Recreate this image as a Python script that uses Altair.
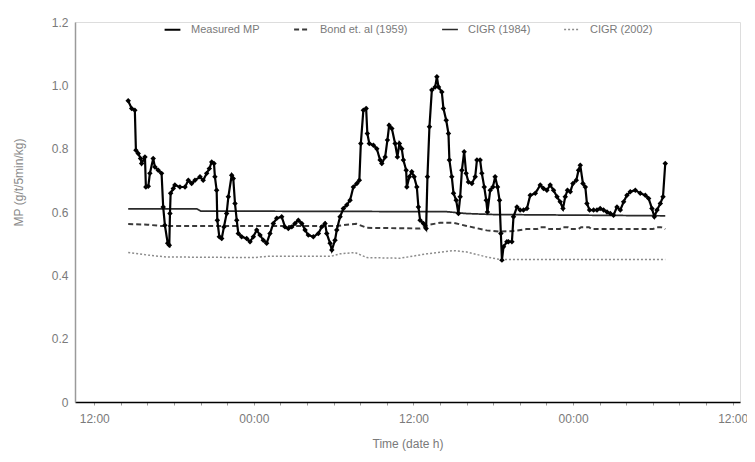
import altair as alt
import pandas as pd

# hours after 12:00 of the first day
measured_h = [2.55, 2.81, 3.05, 3.13, 3.30, 3.48, 3.56, 3.81, 3.88, 4.06, 4.18, 4.43, 4.56, 4.81, 5.06,
              5.18, 5.31, 5.52, 5.64, 5.69, 5.74, 5.94, 6.06, 6.44, 6.82, 7.07, 7.32, 7.57, 7.95, 8.19,
              8.45, 8.65, 8.83, 9.00, 9.07, 9.20, 9.25, 9.40, 9.58, 9.75, 9.95, 10.08, 10.33, 10.45,
              10.58, 10.71, 10.83, 11.08, 11.46, 11.71, 11.96, 12.21, 12.46, 12.71, 12.96, 13.21, 13.46,
              13.72, 14.09, 14.34, 14.59, 14.85, 15.09, 15.34, 15.60, 15.85, 16.09, 16.47, 16.85, 17.10,
              17.35, 17.48, 17.73, 17.86, 18.10, 18.23, 18.48, 18.73, 18.98, 19.23, 19.48, 19.74, 19.93,
              20.04, 20.23, 20.44, 20.53, 20.68, 20.99, 21.24, 21.49, 21.62, 21.87, 22.04, 22.17, 22.37,
              22.62, 22.79, 22.94, 23.12, 23.24, 23.45, 23.50, 23.69, 23.87, 24.05, 24.25, 24.37, 24.50,
              24.75, 24.95, 25.05, 25.20, 25.38, 25.63, 25.76, 25.88, 26.13, 26.25, 26.46, 26.63, 26.70,
              26.88, 27.01, 27.21, 27.38, 27.51, 27.64, 27.81, 27.96, 28.13, 28.39, 28.64, 28.77, 29.01,
              29.14, 29.32, 29.47, 29.56, 29.77, 29.97, 30.14, 30.32, 30.47, 30.57, 30.65, 30.77, 31.02,
              31.14, 31.40, 31.52, 31.78, 32.02, 32.27, 32.53, 32.78, 33.16, 33.53, 33.78, 34.03, 34.28,
              34.53, 34.79, 35.03, 35.24, 35.41, 35.58, 35.79, 35.99, 36.24, 36.41, 36.54, 36.74, 36.92,
              37.04, 37.24, 37.54, 37.80, 38.04, 38.29, 38.55, 38.80, 39.04, 39.30, 39.55, 39.80, 40.05,
              40.30, 40.68, 41.05, 41.43, 41.68, 41.93, 42.11, 42.31, 42.56, 42.76, 42.93]
measured_mp = [0.951, 0.927, 0.921, 0.795, 0.785, 0.769, 0.753, 0.774, 0.679, 0.681, 0.722, 0.769, 0.742,
               0.732, 0.722, 0.616, 0.558, 0.501, 0.495, 0.595, 0.659, 0.674, 0.685, 0.679, 0.679, 0.700,
               0.690, 0.700, 0.711, 0.700, 0.722, 0.737, 0.758, 0.753, 0.711, 0.669, 0.574, 0.522, 0.516,
               0.553, 0.595, 0.648, 0.716, 0.706, 0.627, 0.574, 0.532, 0.522, 0.516, 0.506, 0.522, 0.543,
               0.527, 0.511, 0.501, 0.532, 0.564, 0.580, 0.585, 0.553, 0.548, 0.553, 0.564, 0.574, 0.564,
               0.543, 0.527, 0.522, 0.532, 0.553, 0.564, 0.532, 0.501, 0.480, 0.511, 0.543, 0.585, 0.611,
               0.622, 0.637, 0.679, 0.690, 0.700, 0.816, 0.921, 0.927, 0.848, 0.816, 0.811, 0.800, 0.764,
               0.753, 0.774, 0.827, 0.874, 0.864, 0.816, 0.774, 0.816, 0.800, 0.764, 0.732, 0.679, 0.711,
               0.727, 0.711, 0.679, 0.616, 0.574, 0.564, 0.548, 0.711, 0.869, 0.985, 0.995, 1.027, 0.995,
               0.979, 0.927, 0.890, 0.848, 0.764, 0.711, 0.659, 0.637, 0.595, 0.648, 0.732, 0.790, 0.722,
               0.695, 0.690, 0.711, 0.764, 0.764, 0.722, 0.679, 0.637, 0.600, 0.669, 0.679, 0.711, 0.679,
               0.637, 0.532, 0.448, 0.490, 0.506, 0.506, 0.506, 0.585, 0.616, 0.606, 0.606, 0.611, 0.653,
               0.659, 0.685, 0.674, 0.669, 0.685, 0.669, 0.648, 0.632, 0.611, 0.648, 0.669, 0.664, 0.690,
               0.700, 0.732, 0.748, 0.690, 0.679, 0.627, 0.606, 0.606, 0.606, 0.611, 0.606, 0.600, 0.595,
               0.590, 0.616, 0.606, 0.632, 0.653, 0.664, 0.669, 0.659, 0.653, 0.643, 0.611, 0.585, 0.606,
               0.627, 0.648, 0.753]

bond_h = [2.55, 4.0, 5.0, 18.2, 19.7, 20.5, 24.5, 25.2, 26.0, 27.0, 28.0, 29.5, 30.5, 31.5, 32.5,
          33.3, 33.5, 34.0, 34.2, 35.0, 35.2, 35.6, 35.8, 36.4, 36.6, 37.2, 37.4, 42.0, 42.3, 42.6, 42.93]
bond_mp = [0.562, 0.560, 0.556, 0.556, 0.563, 0.550, 0.548, 0.560, 0.566, 0.566, 0.556, 0.542, 0.538,
           0.540, 0.546, 0.546, 0.552, 0.552, 0.546, 0.546, 0.552, 0.552, 0.546, 0.546, 0.552, 0.552,
           0.546, 0.546, 0.552, 0.552, 0.546]

cigr84_h = [2.55, 7.7, 8.0, 26.5, 28.0, 30.0, 42.93]
cigr84_mp = [0.610, 0.610, 0.603, 0.601, 0.595, 0.592, 0.588]

cigr02_h = [2.55, 4.0, 5.4, 12.0, 13.0, 17.8, 18.5, 19.6, 20.5, 23.0, 25.0, 27.0, 28.0, 29.5, 30.5, 42.93]
cigr02_mp = [0.472, 0.464, 0.458, 0.456, 0.460, 0.460, 0.468, 0.472, 0.456, 0.454, 0.468, 0.478, 0.474,
             0.458, 0.450, 0.450]

series = ["Measured MP", "Bond et. al (1959)", "CIGR (1984)", "CIGR (2002)"]
colors = ["#000000", "#3a3a3a", "#2a2a2a", "#8c8c8c"]
dashes = [[1, 0], [5, 3], [1, 0], [2, 2]]
widths = [2.2, 1.5, 1.5, 1.5]

frames = []
for name, hs, vs in [(series[1], bond_h, bond_mp), (series[2], cigr84_h, cigr84_mp),
                     (series[3], cigr02_h, cigr02_mp), (series[0], measured_h, measured_mp)]:
    frames.append(pd.DataFrame({"h": hs, "mp": vs, "series": name}))
df = pd.concat(frames, ignore_index=True)

x_ticks = list(range(0, 49, 2))
y_ticks = [0, 0.2, 0.4, 0.6, 0.8, 1.0, 1.2]

x = alt.X("h:Q", scale=alt.Scale(domain=[-1.45, 48.55], nice=False, zero=False),
          axis=alt.Axis(values=x_ticks, title="Time (date h)", grid=False, domainColor="#000000",
                        domainWidth=1.5, tickColor="#999999", tickSize=3, labelOverlap=False,
                        labelExpr="datum.value % 24 == 0 ? '12:00' : (datum.value % 24 == 12 ? '00:00' : '')",
                        labelFontSize=12, labelColor="#7a7a7a", labelPadding=8,
                        titleFontSize=12, titleColor="#7a7a7a", titleFontWeight="normal",
                        titlePadding=14))
y = alt.Y("mp:Q", scale=alt.Scale(domain=[0, 1.2], nice=False),
          axis=alt.Axis(values=y_ticks, title="MP (g/t/5min/kg)", grid=False, domainColor="#9a9a9a",
                        domainWidth=1.5, ticks=False, labelPadding=7,
                        labelExpr="datum.value == 0 ? '0' : format(datum.value, '.1f')",
                        labelFontSize=12, labelColor="#7a7a7a",
                        titleFontSize=12, titleColor="#8a8a8a", titleFontWeight="normal",
                        titleX=-50, titleY=160))

lines = alt.Chart(df).mark_line().encode(
    x=x, y=y,
    color=alt.Color("series:N", scale=alt.Scale(domain=series, range=colors),
                    legend=alt.Legend(title=None, orient="none", direction="horizontal",
                                      legendX=88, legendY=-2, symbolType="stroke",
                                      symbolSize=250, symbolStrokeWidth=1.5, labelFontSize=11,
                                      labelColor="#7a7a7a", columnPadding=30, labelOffset=9)),
    strokeDash=alt.StrokeDash("series:N", scale=alt.Scale(domain=series, range=dashes), legend=None),
    strokeWidth=alt.StrokeWidth("series:N", scale=alt.Scale(domain=series, range=widths), legend=None),
    order=alt.Order("h:Q"),
)

points = alt.Chart(df).transform_filter(alt.datum.series == series[0]).mark_point(
    shape="diamond", filled=True, size=30, color="#000000", opacity=1
).encode(x=x, y=y)

chart = alt.layer(lines, points).properties(
    width=665, height=380,
    autosize=alt.AutoSizeParams(type="none"),
    padding={"left": 67, "top": 14, "right": 7, "bottom": 50},
).configure_view(stroke=None).configure(font="Liberation Sans", background="white")

chart.save("out.html", embed_options={"renderer": "svg", "actions": False})
